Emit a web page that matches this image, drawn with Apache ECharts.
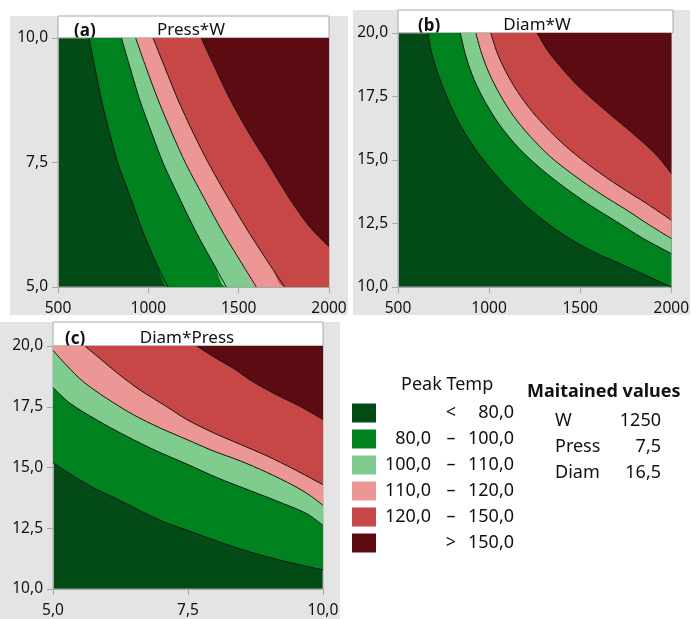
<!DOCTYPE html>
<html><head><meta charset="utf-8">
<script src="https://cdn.jsdelivr.net/npm/echarts@6/dist/echarts.min.js"></script>
<style>html,body{margin:0;padding:0;background:#fff}#c{width:692px;height:619px}</style>
</head><body><div id="c"></div>
<script>
// ---------- data ----------
const bandColors = ['#034b16', '#00831f', '#80cc8f', '#ec9696', '#c74646', '#5c0b12'];
const legendTitle = 'Peak Temp';
const legendLow  = ['', '80,0', '100,0', '110,0', '120,0', ''];
const legendSep  = ['<', '–', '–', '–', '–', '>'];
const legendHigh = ['80,0', '100,0', '110,0', '120,0', '150,0', '150,0'];
const heldTitle = 'Maitained values';
const heldNames = ['W', 'Press', 'Diam'];
const heldValues = ['1250', '7,5', '16,5'];

const panelTitles = [['(a)', 'Press*W'], ['(b)', 'Diam*W'], ['(c)', 'Diam*Press']];
const xRanges = [[500, 2000, 500], [500, 2000, 500], [5, 10, 2.5]];
const yRanges = [[5, 10, 2.5], [10, 20, 2.5], [10, 20, 2.5]];

// panel (a): W (x) vs Press (y) contour boundaries 80,100,110,120,150
const a80  = [[672,10],[703,9.43],[740,8.76],[786,8.09],[832,7.48],[906,6.75],[974,6.07],[1054,5.40],[1109,5]];
const a100 = [[851,10],[897,9.43],[952,8.76],[1019,8.09],[1083,7.48],[1177,6.75],[1269,6.07],[1371,5.40],[1432,5]];
const a110 = [[930,10],[985,9.43],[1054,8.76],[1131,8.09],[1207,7.48],[1314,6.75],[1417,6.07],[1530,5.40],[1598,5]];
const a120 = [[1026,10],[1089,9.43],[1164,8.76],[1249,8.09],[1334,7.48],[1448,6.75],[1561,6.07],[1681,5.40],[1755,5]];
const a150 = [[1293,10],[1365,9.43],[1454,8.76],[1557,8.09],[1662,7.48],[1786,6.75],[1893,6.21],[2000,5.81]];

// panel (b): W (x) vs Diam (y)
const b80  = [[664,20],[685,19.21],[718,18.42],[760,17.63],[808,16.84],[868,16.05],[942,15.26],[1030,14.47],[1140,13.62],[1262,12.83],[1400,12.10],[1554,11.45],[1718,10.92],[1882,10.39],[2000,10]];
const b100 = [[842,20],[873,19.08],[918,18.16],[982,17.24],[1064,16.32],[1164,15.46],[1282,14.67],[1409,13.95],[1554,13.22],[1700,12.57],[1846,11.91],[2000,11.32]];
const b110 = [[927,20],[958,19.21],[1000,18.42],[1060,17.57],[1136,16.71],[1227,15.92],[1336,15.13],[1464,14.41],[1609,13.68],[1755,13.03],[1882,12.43],[2000,11.91]];
const b120 = [[1009,20],[1045,19.21],[1091,18.49],[1155,17.70],[1236,16.91],[1336,16.12],[1445,15.39],[1573,14.67],[1718,13.95],[1864,13.29],[2000,12.63]];
const b150 = [[1264,20],[1318,19.34],[1391,18.68],[1482,17.96],[1591,17.24],[1700,16.58],[1809,15.92],[1918,15.20],[2000,14.47]];

// panel (c): Press (x) vs Diam (y)
const c80  = [[5,15.20],[5.68,14.25],[6.18,13.71],[6.98,12.83],[7.48,12.42],[8.34,11.74],[8.96,11.33],[9.58,10.99],[10,10.79]];
const c100 = [[5,18.29],[5.31,17.65],[5.80,16.97],[6.36,16.29],[6.92,15.68],[7.48,15.14],[8.03,14.59],[8.65,14.05],[9.27,13.51],[9.70,13.10],[10,12.62]];
const c110 = [[5,19.82],[5.25,19.21],[5.56,18.53],[5.99,17.85],[6.49,17.17],[6.98,16.63],[7.48,16.15],[7.97,15.68],[8.47,15.27],[8.96,14.80],[9.46,14.25],[9.76,13.85],[10,13.44]];
const c120 = [[5.59,20],[5.87,19.48],[6.24,18.80],[6.61,18.19],[7.10,17.51],[7.48,16.97],[7.97,16.43],[8.47,15.95],[8.96,15.48],[9.46,14.93],[10,14.29]];
const c150 = [[7.66,20],[8.03,19.48],[8.34,19.08],[8.65,18.60],[9.08,18.06],[9.58,17.51],[10,16.97]];

const panelCurves = [[a80, a100, a110, a120, a150], [b80, b100, b110, b120, b150], [c80, c100, c110, c120, c150]];

// ---------- layout ----------
const grids = [
  {left: 58, top: 38, width: 271, height: 249},
  {left: 398, top: 33, width: 275, height: 254},
  {left: 53, top: 346, width: 270, height: 246}
];
const panelBg = [[10, 16, 338, 299], [353, 10, 337, 305], [0, 322, 340, 297]];
const FONT = "'Noto Sans', 'DejaVu Sans', sans-serif";

function fmtComma(v, dec) { return v.toFixed(dec).replace('.', ','); }

const xAxis = [], yAxis = [], series = [], graphic = [];
grids.forEach((g, i) => {
  g.show = true; g.backgroundColor = bandColors[0]; g.borderColor = '#a8a8a8'; g.borderWidth = 1;
  g.containLabel = false;
  const common = {
    gridIndex: i, type: 'value',
    axisLine: {show: true, lineStyle: {color: '#a8a8a8', width: 1}},
    axisTick: {show: true, length: 6, lineStyle: {color: '#a8a8a8'}},
    splitLine: {show: false},
    axisLabel: {color: '#111', fontSize: 15.5, fontFamily: FONT}
  };
  const xr = xRanges[i], yr = yRanges[i];
  xAxis.push(Object.assign({}, common, {min: xr[0], max: xr[1], interval: xr[2],
    axisLabel: Object.assign({}, common.axisLabel, {margin: 14,
      formatter: v => i === 2 ? fmtComma(v, 1) : String(v)})}));
  yAxis.push(Object.assign({}, common, {min: yr[0], max: yr[1], interval: yr[2],
    axisLabel: Object.assign({}, common.axisLabel, {margin: 10, formatter: v => fmtComma(v, 1)})}));

  panelCurves[i].forEach((curve, k) => {
    const last = curve[curve.length - 1];
    const areaData = curve.slice();
    if (last[0] < xr[1]) areaData.push([xr[1], yr[0]]);
    series.push({
      type: 'line', xAxisIndex: i, yAxisIndex: i, data: areaData, showSymbol: false, symbol: 'none',
      smooth: 0.3, lineStyle: {width: 0, opacity: 0}, silent: true,
      areaStyle: {color: bandColors[k + 1], opacity: 1, origin: 'end'}, z: 2 + k * 0.01
    });
  });
  panelCurves[i].forEach((curve) => {
    series.push({
      type: 'line', xAxisIndex: i, yAxisIndex: i, data: curve, showSymbol: false, symbol: 'none',
      smooth: 0.3, lineStyle: {width: 1, color: '#151515'}, silent: true, z: 3
    });
  });

  // panel background
  const bg = panelBg[i];
  graphic.push({type: 'rect', z: -10, shape: {x: bg[0], y: bg[1], width: bg[2], height: bg[3]},
    style: {fill: '#e4e4e4'}, silent: true});
  // title strip
  const stripTop = bg[1];
  const stripH = g.top - stripTop;
  graphic.push({type: 'rect', z: -5, shape: {x: g.left, y: stripTop, width: g.width, height: stripH},
    style: {fill: '#ffffff', stroke: '#a8a8a8', lineWidth: 1}, silent: true});
  const offs = [[16, 133], [20, 139], [12, 134]][i];
  graphic.push({type: 'text', z: -4, x: g.left + offs[0], y: g.top + 2,
    style: {text: panelTitles[i][0], font: 'bold 17px ' + FONT, fill: '#111', textVerticalAlign: 'bottom'}, silent: true});
  graphic.push({type: 'text', z: -4, x: g.left + offs[1], y: g.top + 1,
    style: {text: panelTitles[i][1], font: '17px ' + FONT, fill: '#111', textAlign: 'center', textVerticalAlign: 'bottom'}, silent: true});
});

// legend
const LF = '18px ' + FONT;
graphic.push({type: 'text', x: 401, y: 385, style: {text: legendTitle, font: LF, fill: '#111', textVerticalAlign: 'middle'}});
bandColors.forEach((c, k) => {
  const cy = 413 + k * 26;
  graphic.push({type: 'rect', shape: {x: 352, y: cy - 9.5, width: 24, height: 19}, style: {fill: c}});
  if (legendLow[k]) graphic.push({type: 'text', x: 431, y: cy, style: {text: legendLow[k], font: LF, fill: '#111', textAlign: 'right', textVerticalAlign: 'middle'}});
  graphic.push({type: 'text', x: 451, y: cy, style: {text: legendSep[k], font: LF, fill: '#111', textAlign: 'center', textVerticalAlign: 'middle'}});
  graphic.push({type: 'text', x: 514, y: cy, style: {text: legendHigh[k], font: LF, fill: '#111', textAlign: 'right', textVerticalAlign: 'middle'}});
});
graphic.push({type: 'text', x: 527, y: 392, style: {text: heldTitle, font: 'bold 18px ' + FONT, fill: '#111', textVerticalAlign: 'middle'}});
heldNames.forEach((n, k) => {
  const cy = 421 + k * 26;
  graphic.push({type: 'text', x: 555, y: cy, style: {text: n, font: LF, fill: '#111', textVerticalAlign: 'middle'}});
  graphic.push({type: 'text', x: 661, y: cy, style: {text: heldValues[k], font: LF, fill: '#111', textAlign: 'right', textVerticalAlign: 'middle'}});
});

const chart = echarts.init(document.getElementById('c'), null, {renderer: 'canvas'});
chart.setOption({animation: false, grid: grids, xAxis, yAxis, series, graphic});
</script></body></html>
